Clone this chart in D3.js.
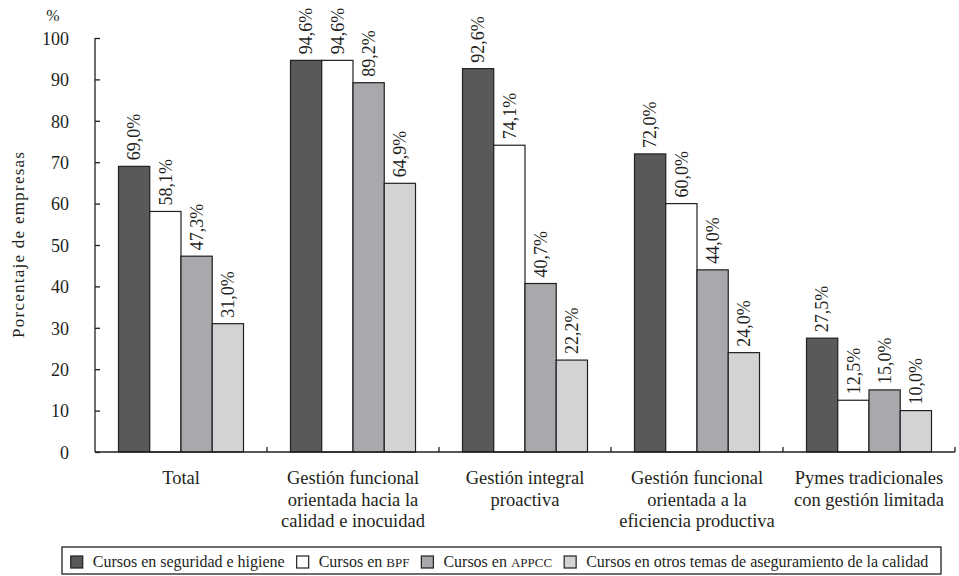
<!DOCTYPE html>
<html>
<head>
<meta charset="utf-8">
<script src="https://cdn.jsdelivr.net/npm/d3@7/dist/d3.min.js"></script>
<style>
  body { margin: 0; background: #fff; }
  svg { display: block; }
  svg text, svg tspan { font-family: "Liberation Serif" !important; }
</style>
</head>
<body>
<svg id="chart" width="959" height="576" font-family="Liberation Serif"></svg>
<script>
// Categories (multi-line labels) and series
const categories = [
  ["Total"],
  ["Gestión funcional", "orientada hacia la", "calidad e inocuidad"],
  ["Gestión integral", "proactiva"],
  ["Gestión funcional", "orientada a la", "eficiencia productiva"],
  ["Pymes tradicionales", "con gestión limitada"]
];
const seriesNames = [
  ["Cursos en seguridad e higiene"],
  ["Cursos en ", "BPF"],
  ["Cursos en ", "APPCC"],
  ["Cursos en otros temas de aseguramiento de la calidad"]
];
const seguridad = [69.0, 94.6, 92.6, 72.0, 27.5];
const bpf       = [58.1, 94.6, 74.1, 60.0, 12.5];
const appcc     = [47.3, 89.2, 40.7, 44.0, 15.0];
const otros     = [31.0, 64.9, 22.2, 24.0, 10.0];
const yTicks = [0, 10, 20, 30, 40, 50, 60, 70, 80, 90, 100];
const colors = ["#58595b", "#ffffff", "#a7a9ac", "#d1d3d4"];

const series = [seguridad, bpf, appcc, otros];

const FONT = "Liberation Serif";
const svg = d3.select("#chart");
const plotL = 95, plotR = 955, plotT = 38, plotB = 452;
const ink = "#231f20";

const y = d3.scaleLinear().domain([0, 100]).range([plotB, plotT]);
const x0 = d3.scaleBand().domain(d3.range(categories.length)).range([plotL, plotR]).padding(0);
const groupW = 125;
const x1 = d3.scaleBand().domain(d3.range(series.length))
  .range([(x0.bandwidth() - groupW) / 2, (x0.bandwidth() + groupW) / 2]).padding(0);

// Bars
const groups = svg.append("g").selectAll("g")
  .data(categories.map((c, i) => i))
  .join("g")
  .attr("transform", i => `translate(${x0(i)},0)`);

groups.selectAll("rect")
  .data(i => series.map((s, k) => ({ k, v: s[i] })))
  .join("rect")
  .attr("x", d => x1(d.k))
  .attr("y", d => y(d.v))
  .attr("width", x1.bandwidth())
  .attr("height", d => y(0) - y(d.v))
  .attr("fill", d => colors[d.k])
  .attr("stroke", ink)
  .attr("stroke-width", 1.2);

// Rotated value labels
const fmt = v => v.toFixed(1).replace(".", ",") + "%";
groups.selectAll("text.val")
  .data(i => series.map((s, k) => ({ k, v: s[i] })))
  .join("text")
  .attr("class", "val")
  .attr("transform", d => `translate(${x1(d.k) + x1.bandwidth() / 2},${y(d.v) - 6}) rotate(-90)`)
  .attr("dy", "0.35em")
  .attr("font-size", 18)
  .attr("font-family", FONT)
  .attr("fill", ink)
  .text(d => fmt(d.v));

// Y axis
const yAxis = d3.axisLeft(y).tickValues(yTicks).tickSize(-5).tickPadding(26);
const gy = svg.append("g").attr("transform", `translate(${plotL},0)`).call(yAxis)
  .attr("font-family", FONT);
gy.select(".domain").attr("stroke", ink).attr("stroke-width", 1.3).attr("d", `M0,${plotT}V${plotB}`);
gy.selectAll(".tick line").attr("stroke", ink).attr("stroke-width", 1.3);
gy.selectAll(".tick text").attr("font-size", 18).attr("fill", ink)
  .attr("font-family", FONT).attr("dy", "0.35em");

// X axis with boundary ticks between groups
svg.append("line").attr("x1", plotL).attr("x2", plotR).attr("y1", plotB).attr("y2", plotB)
  .attr("stroke", ink).attr("stroke-width", 1.3);
svg.append("g").selectAll("line")
  .data(d3.range(1, categories.length + 1))
  .join("line")
  .attr("x1", i => x0(i - 1) + x0.bandwidth())
  .attr("x2", i => x0(i - 1) + x0.bandwidth())
  .attr("y1", plotB).attr("y2", plotB - 5)
  .attr("stroke", ink).attr("stroke-width", 1.3);

// Category labels
svg.append("g").selectAll("text")
  .data(categories)
  .join("text")
  .attr("text-anchor", "middle")
  .attr("font-size", 18.5)
  .attr("font-family", FONT)
  .attr("fill", ink)
  .attr("transform", (c, i) => `translate(${x0(i) + x0.bandwidth() / 2},484)`)
  .selectAll("tspan")
  .data(c => c)
  .join("tspan")
  .attr("x", 0)
  .attr("y", (d, j) => j * 21.5)
  .text(d => d);

// Axis titles
svg.append("text")
  .attr("transform", `translate(18,${(plotT + plotB) / 2}) rotate(-90)`)
  .attr("text-anchor", "middle").attr("dy", "0.35em")
  .attr("font-size", 17).attr("font-family", FONT).attr("fill", ink)
  .attr("textLength", 186).attr("lengthAdjust", "spacing")
  .text("Porcentaje de empresas");
svg.append("text")
  .attr("x", 53).attr("y", 21).attr("text-anchor", "middle")
  .attr("font-size", 16).attr("font-family", FONT).attr("fill", ink)
  .text("%");

// Legend
const legend = svg.append("g");
const items = legend.selectAll("g").data(seriesNames).join("g");
items.append("rect")
  .attr("width", 12).attr("height", 12).attr("y", -11)
  .attr("fill", (d, k) => colors[k]).attr("stroke", ink).attr("stroke-width", 1.2);
const lt = items.append("text").attr("x", 22).attr("font-size", 16)
  .attr("font-family", FONT).attr("fill", ink);
lt.selectAll("tspan").data(d => d).join("tspan")
  .attr("font-size", (d, j) => j === 1 ? 13 : 16)
  .text(d => d);
let cx = 0;
items.each(function() {
  const w = this.getBBox().width;
  d3.select(this).attr("transform", `translate(${cx},0)`);
  cx += w + 12;
});
const totalW = cx - 12;
const boxL = 62, boxR = 941, boxT = 547, boxB = 574;
legend.attr("transform", `translate(${(boxL + boxR) / 2 - totalW / 2 - 2},567)`);
svg.append("rect")
  .attr("x", boxL).attr("y", boxT).attr("width", boxR - boxL).attr("height", boxB - boxT)
  .attr("fill", "none").attr("stroke", ink).attr("stroke-width", 1.3);
</script>
</body>
</html>
